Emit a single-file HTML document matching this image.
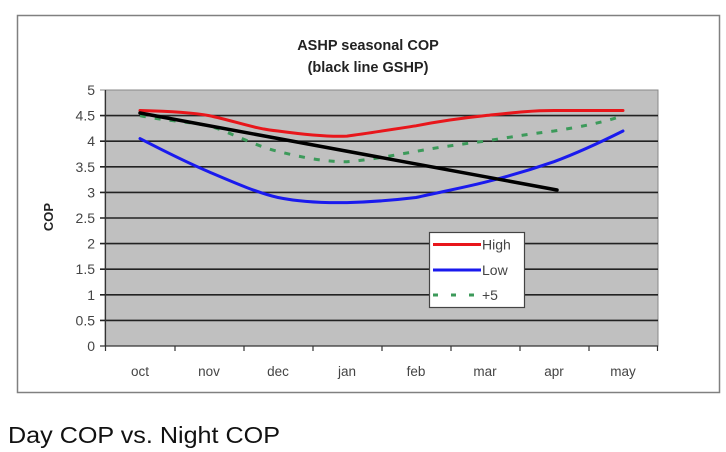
<!DOCTYPE html>
<html><head><meta charset="utf-8"><style>
html,body{margin:0;padding:0;background:#fff;width:726px;height:452px;overflow:hidden}
svg{display:block}
text{font-family:"Liberation Sans",Arial,sans-serif}
</style></head><body>
<svg width="726" height="452" viewBox="0 0 726 452">
<rect x="17.5" y="15.5" width="702" height="377" fill="#fff" stroke="#808080" stroke-width="1.5"/>
<text x="368" y="50" text-anchor="middle" font-size="14.5" font-weight="bold" fill="#222">ASHP seasonal COP</text>
<text x="368" y="72" text-anchor="middle" font-size="14.5" font-weight="bold" fill="#222">(black line GSHP)</text>
<rect x="105" y="90" width="553" height="256" fill="#c0c0c0" stroke="#888" stroke-width="1"/>
<g stroke="#222" stroke-width="1.6">
<line x1="100" y1="90" x2="658" y2="90" stroke="#888" stroke-width="1"/>
<line x1="100" y1="115.6" x2="658" y2="115.6"/>
<line x1="100" y1="141.2" x2="658" y2="141.2"/>
<line x1="100" y1="166.8" x2="658" y2="166.8"/>
<line x1="100" y1="192.4" x2="658" y2="192.4"/>
<line x1="100" y1="218" x2="658" y2="218"/>
<line x1="100" y1="243.6" x2="658" y2="243.6"/>
<line x1="100" y1="269.2" x2="658" y2="269.2"/>
<line x1="100" y1="294.8" x2="658" y2="294.8"/>
<line x1="100" y1="320.4" x2="658" y2="320.4"/>
</g>
<g stroke="#333" stroke-width="1.2">
<line x1="100" y1="346" x2="658" y2="346"/>
<line x1="105.5" y1="90" x2="105.5" y2="351"/>
<line x1="175" y1="346" x2="175" y2="351"/><line x1="244" y1="346" x2="244" y2="351"/>
<line x1="313" y1="346" x2="313" y2="351"/><line x1="382" y1="346" x2="382" y2="351"/>
<line x1="451" y1="346" x2="451" y2="351"/><line x1="520" y1="346" x2="520" y2="351"/>
<line x1="589" y1="346" x2="589" y2="351"/><line x1="657.5" y1="346" x2="657.5" y2="351"/>
</g>
<g font-size="14" fill="#444" text-anchor="end">
<text x="95" y="95">5</text><text x="95" y="120.6">4.5</text><text x="95" y="146.2">4</text>
<text x="95" y="171.8">3.5</text><text x="95" y="197.4">3</text><text x="95" y="223">2.5</text>
<text x="95" y="248.6">2</text><text x="95" y="274.2">1.5</text><text x="95" y="299.8">1</text>
<text x="95" y="325.4">0.5</text><text x="95" y="351">0</text>
</g>
<text transform="translate(53,217) rotate(-90)" text-anchor="middle" font-size="13" font-weight="bold" fill="#222">COP</text>
<g font-size="13.5" fill="#444" text-anchor="middle">
<text x="140" y="376">oct</text><text x="209" y="376">nov</text><text x="278" y="376">dec</text>
<text x="347" y="376">jan</text><text x="416" y="376">feb</text><text x="485" y="376">mar</text>
<text x="554" y="376">apr</text><text x="623" y="376">may</text>
</g>
<g fill="none" stroke-linejoin="round" stroke-linecap="round">
<path d="M140,115.6 C160,120 190,122 209,125.8 C230,132 255,146 278,151.4 C300,157 325,162 347,161.7 C370,160 395,155 416,151.4 C440,147 462,144 485,141.2 C510,137 530,134 554,131 C580,127 605,122 623,115.6" stroke="#3c9a5a" stroke-width="3" stroke-linecap="butt" stroke-dasharray="6,9"/>
<path d="M140,110.5 C160,111 190,112 209,115.6 C235,121 255,129 278,131 C300,134 330,137 347,136.1 C370,133 395,129 416,125.8 C440,121 462,118 485,115.6 C510,113 530,110.5 554,110.5 L623,110.5" stroke="#e8161b" stroke-width="3"/>
<path d="M140,138.6 C162,150 188,163 209,171.9 C235,183 258,193 278,197.5 C300,202 325,203 347,202.6 C370,202 395,200 416,197.5 C440,192 462,188 485,182.2 C510,176 530,170 554,161.7 C580,152 605,140 623,131" stroke="#1a1aee" stroke-width="3"/>
<line x1="140" y1="113" x2="557" y2="190" stroke="#000" stroke-width="3.5"/>
</g>
<rect x="429.5" y="232.5" width="95" height="75" fill="#fff" stroke="#444" stroke-width="1.2"/>
<line x1="433" y1="244.5" x2="481" y2="244.5" stroke="#e8161b" stroke-width="3"/>
<line x1="433" y1="270" x2="481" y2="270" stroke="#1a1aee" stroke-width="3"/>
<line x1="433" y1="295" x2="481" y2="295" stroke="#3c9a5a" stroke-width="3" stroke-dasharray="5,13"/>
<g font-size="14" fill="#444">
<text x="482" y="249.5">High</text><text x="482" y="275">Low</text><text x="482" y="300">+5</text>
</g>
<text x="8" y="443" font-size="23" fill="#111" textLength="272" lengthAdjust="spacingAndGlyphs">Day COP vs. Night COP</text>
</svg>
</body></html>
